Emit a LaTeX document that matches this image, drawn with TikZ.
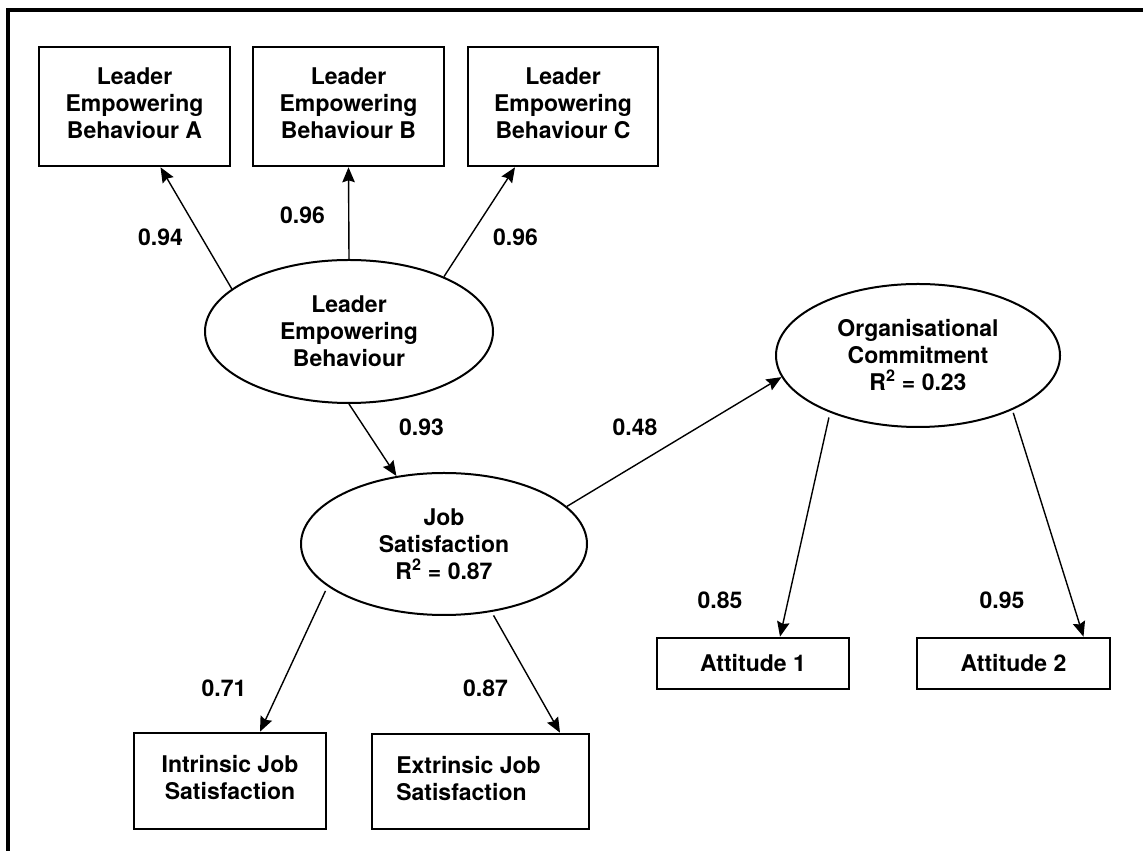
\documentclass[tikz,border=0pt]{standalone}
\usepackage{fontspec}
\setmainfont{TeX Gyre Heros}
\usetikzlibrary{arrows.meta,shapes.geometric}

\tikzset{
  every node/.style={font=\bfseries\fontsize{23}{27}\selectfont},
  obsbox/.style={draw, line width=2.6pt, rectangle, inner sep=0pt,
                 minimum width=191pt, minimum height=119pt},
  smallbox/.style={draw, line width=2.6pt, rectangle, inner sep=0pt,
                 minimum width=192pt, minimum height=51pt},
  latent/.style={draw, line width=2pt, ellipse, inner sep=0pt, align=center,
                 minimum width=288pt, minimum height=143pt},
  coef/.style={inner sep=0pt},
  path/.style={line width=1.4pt, -{Stealth[length=15pt,width=12.5pt,inset=2pt]}},
}

\newcommand{\stack}[1]{\raisebox{5pt}{\begin{tabular}{@{}c@{}}#1\end{tabular}}}

\begin{document}
\begin{tikzpicture}[x=1pt,y=1pt]
  \useasboundingbox (0,0) rectangle (1143,851);

  % frame lines (top and left)
  \draw[line width=4pt] (8,0) -- (8,841) -- (1143,841);

  % indicator boxes for the leadership factor
  \node[obsbox] (A) at (134.5,744.5) {\stack{Leader\\Empowering\\Behaviour A}};
  \node[obsbox] (B) at (348.5,744.5) {\stack{Leader\\Empowering\\Behaviour B}};
  \node[obsbox, minimum width=190pt] (C) at (563,744.5) {\stack{Leader\\Empowering\\Behaviour C}};

  % latent variables
  \node[latent] (LEB) at (349,519.5) {Leader\\Empowering\\Behaviour};
  \node[latent, minimum width=286pt, minimum height=142pt] (JS) at (444,307)
       {Job\\Satisfaction\\R\textsuperscript{2} = 0.87};
  \node[latent, minimum width=284pt] (OC) at (918,495.5)
       {Organisational\\Commitment\\R\textsuperscript{2} = 0.23};

  % indicators of commitment
  \node[smallbox] (AT1) at (753,187.5) {Attitude 1};
  \node[smallbox, minimum width=193pt] (AT2) at (1013.5,187.5) {Attitude 2};

  % indicators of job satisfaction
  \node[obsbox, minimum width=192pt, minimum height=96pt] (IJS) at (230,70)
       {\stack{Intrinsic Job\\Satisfaction}};
  \node[obsbox, minimum width=217pt, minimum height=95pt] (EJS) at (480.5,69.5)
       {\raisebox{5pt}{\begin{tabular}{@{}l@{}}Extrinsic Job\\Satisfaction\end{tabular}}\hspace*{24pt}};

  % loadings and structural paths
  \draw[path] (LEB.160) -- ([xshift=26pt]A.south);
  \draw[path] (LEB.north) -- (B.south);
  \draw[path] (LEB.30) -- ([xshift=-48pt]C.south);
  \draw[path] (LEB.south) -- (JS.125);
  \draw[path] (JS.17) -- (OC.189);
  \draw[path, shorten <=5pt] (JS.200) -- ([xshift=30pt]IJS.north);
  \draw[path, shorten <=4pt] (JS.305) -- ([xshift=79.5pt]EJS.north);
  \draw[path, shorten <=5pt] (OC.213) -- ([xshift=27pt]AT1.north);
  \draw[path, shorten <=3pt] (OC.330) -- ([xshift=70pt]AT2.north);

  % coefficients
  \node[coef] (c94) at (160.5,614) {0.94};
  \node[coef] (c96b) at (302.5,636) {0.96};
  \node[coef] (c96c) at (515.5,614) {0.96};
  \node[coef] (c93) at (421.5,424) {0.93};
  \node[coef] (c48) at (635,424) {0.48};
  \node[coef] (c85) at (720,251) {0.85};
  \node[coef] (c95) at (1002,251) {0.95};
  \node[coef] (c71) at (224,163) {0.71};
  \node[coef] (c87) at (485.5,163) {0.87};
\end{tikzpicture}
\end{document}
